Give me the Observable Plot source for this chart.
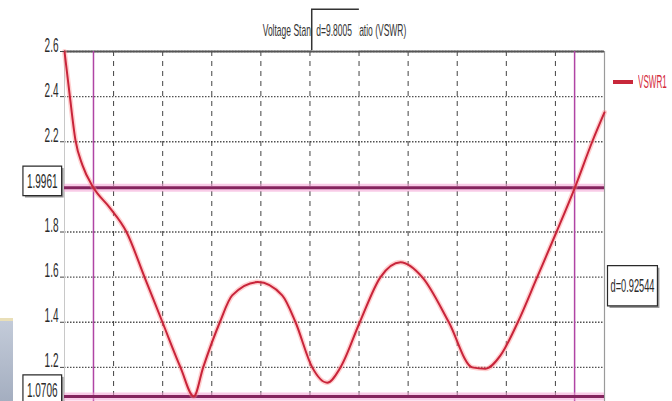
<!DOCTYPE html>
<html><head><meta charset="utf-8">
<script src="https://cdn.jsdelivr.net/npm/d3@7"></script>
<script src="https://cdn.jsdelivr.net/npm/@observablehq/plot@0.6"></script>
<style>
html,body{margin:0;padding:0;background:#fff;overflow:hidden;width:672px;height:401px;}
#chart{position:relative;width:672px;height:401px;overflow:hidden;font-family:"Liberation Sans",Arial,sans-serif;}
#legend{position:absolute;left:613px;top:72px;height:20px;display:flex;align-items:center;color:#d42a3a;}
#legend .sw{width:20px;height:3.5px;background:#c8283a;margin-right:5px;flex:none;}
#legend .tx{font-size:18px;line-height:20px;display:inline-block;transform:scaleX(0.45);transform-origin:left center;white-space:nowrap;}
#panel{position:absolute;left:0;top:318px;width:13px;height:83px;background:linear-gradient(#c3cbd9,#a3adbf);border-top:3px solid #e9dfb8;}
</style></head><body><div id="chart"><div id="panel"></div></div>
<script>
// ---- data ----
const xPos = [0.000,0.102,0.224,0.367,0.591,0.917,1.263,1.630,1.996,2.363,2.634,2.825,3.164,3.416,3.938,4.435,4.706,5.046,5.351,5.622,6.015,6.437,6.845,7.287,7.829,8.305,8.576,8.882,9.234,9.629,10.022,10.395,10.750,11.000];
const vswr = [2.600,2.414,2.206,2.095,1.996,1.909,1.800,1.600,1.400,1.200,1.071,1.200,1.400,1.519,1.578,1.519,1.400,1.200,1.132,1.200,1.400,1.600,1.666,1.600,1.400,1.200,1.194,1.253,1.400,1.600,1.800,1.996,2.200,2.330];
const yTicks = [2.6,2.4,2.2,1.8,1.6,1.4,1.2];
const xGrid = [1,2,3,4,5,6,7,8,9,10];
const markerY = [1.9961,1.0706];
const markerYLabels = ["1.9961","1.0706"];
const markerX = [0.5905,10.391];
const deltaXLabel = "d=9.8005";
const deltaYLabel = "d=0.92544";
const seriesName = "VSWR1";
const title = "Voltage Standing Wave Ratio (VSWR)";

const data = xPos.map((x,i)=>({x, v: vswr[i]}));
const font = "'Liberation Sans', Arial, sans-serif";

const chart = Plot.plot({
  width: 672, height: 440,
  marginLeft: 64, marginRight: 68, marginTop: 51, marginBottom: 28,
  style: {fontFamily: font, background: "#fff", color: "#333", overflow: "visible"},
  x: {domain: [0, 11], axis: null},
  y: {domain: [1.0, 2.6], axis: null},
  marks: [
    Plot.gridY(yTicks, {stroke: "#333", strokeOpacity: 0.85, strokeWidth: 1.3, strokeDasharray: "1.5,1.5"}),
    Plot.gridX(xGrid, {stroke: "#222", strokeOpacity: 0.85, strokeWidth: 1, strokeDasharray: "5,5"}),
    Plot.ruleX([0], {stroke: "#c8c8c8", strokeWidth: 1}),
    Plot.ruleX([11], {stroke: "#9a9a9a", strokeWidth: 1.2}),
    Plot.ruleY([2.6], {stroke: "#555", strokeWidth: 2.2}),
    Plot.ruleX(markerX, {stroke: "#b044a4", strokeWidth: 1.5}),
    Plot.ruleY(markerY, {stroke: "#f4a0d4", strokeWidth: 8, strokeOpacity: 0.55}),
    Plot.ruleY(markerY, {stroke: "#84245e", strokeWidth: 3}),
    Plot.line(data, {x: "x", y: "v", stroke: "#ff8a8a", strokeWidth: 5, strokeOpacity: 0.4, curve: "monotone-x"}),
    Plot.line(data, {x: "x", y: "v", stroke: "#c8243a", strokeWidth: 2, curve: "monotone-x"}),
    Plot.axisY(yTicks, {anchor: "left", label: null, tickSize: 4, tickPadding: 2, fontSize: 20, stroke: "#444", fill: "#2a2a2a", tickFormat: d3.format(".1f")}),
    Plot.text([title], {frameAnchor: "top", dy: -16, fontSize: 17, fill: "#333"}),
    Plot.text(markerY, {y: d => d, text: (d,i) => markerYLabels[i], frameAnchor: "left", dx: -7, textAnchor: "end", fontSize: 20, fill: "#2a2a2a"}),
    Plot.text([d3.mean(markerY)], {y: d => d, text: () => deltaYLabel, frameAnchor: "right", dx: 6, textAnchor: "start", fontSize: 18.5, fill: "#2a2a2a"}),
    Plot.text([d3.mean(markerX)], {x: d => d, text: () => deltaXLabel, frameAnchor: "top", dy: -16, fontSize: 17, fill: "#333"})
  ]
});

document.getElementById("chart").appendChild(chart);
const svg = d3.select(chart);

// condensed glyphs: squeeze each text horizontally around its anchor
const SX = 0.5;
svg.selectAll("text").each(function(){
  let t = this.getAttribute("transform") || "";
  const ax = this.getAttribute("x"), ay = this.getAttribute("y");
  if (ax !== null || ay !== null) {
    t = `translate(${+ax||0},${+ay||0}) ` + t;
    this.removeAttribute("x"); this.removeAttribute("y");
  }
  this.setAttribute("transform", t + ` scale(${SX},1)`);
});

// boxes behind annotation labels
function boxFor(label, style) {
  svg.selectAll("text").filter(function(){ return this.textContent === label; }).each(function(){
    const bb = this.getBBox();
    const tr = this.getAttribute("transform");
    const p = this.parentNode;
    const pl = style.px, pr = style.pxR ?? style.px, py = style.py;
    const x = bb.x - pl, y = bb.y - py, w = bb.width + pl + pr, h = bb.height + 2*py;
    const ns = "http://www.w3.org/2000/svg";
    if (style.shadow) {
      const s = document.createElementNS(ns, "rect");
      s.setAttribute("transform", tr); s.setAttribute("x", x + 4); s.setAttribute("y", y + 2);
      s.setAttribute("width", w); s.setAttribute("height", h); s.setAttribute("fill", "#9a9a9a");
      p.insertBefore(s, this);
    }
    const r = document.createElementNS(ns, "rect");
    r.setAttribute("transform", tr); r.setAttribute("x", x); r.setAttribute("y", y);
    r.setAttribute("width", w); r.setAttribute("height", h); r.setAttribute("fill", "#fff");
    if (style.border) { r.setAttribute("stroke", "#2a2a2a"); r.setAttribute("stroke-width", 1.2); r.setAttribute("vector-effect", "non-scaling-stroke"); }
    p.insertBefore(r, this);
    if (style.topLeft) {
      const l = document.createElementNS(ns, "path");
      l.setAttribute("transform", tr);
      l.setAttribute("d", `M${x},${y+h}V${y}H${x+w}`);
      l.setAttribute("fill", "none"); l.setAttribute("stroke", "#333"); l.setAttribute("stroke-width", 1.5);
      l.setAttribute("vector-effect", "non-scaling-stroke");
      p.insertBefore(l, this);
    }
  });
}
markerYLabels.forEach(l => boxFor(l, {px: 8, py: 4, border: true, shadow: true}));
boxFor(deltaYLabel, {px: 6, py: 10, border: true, shadow: true});
boxFor(deltaXLabel, {px: 9, pxR: 14, py: 11, topLeft: true});

// legend
const lg = document.createElement("div");
lg.id = "legend";
lg.innerHTML = `<span class="sw"></span><span class="tx">${seriesName}</span>`;
document.getElementById("chart").appendChild(lg);
</script>
</body></html>
